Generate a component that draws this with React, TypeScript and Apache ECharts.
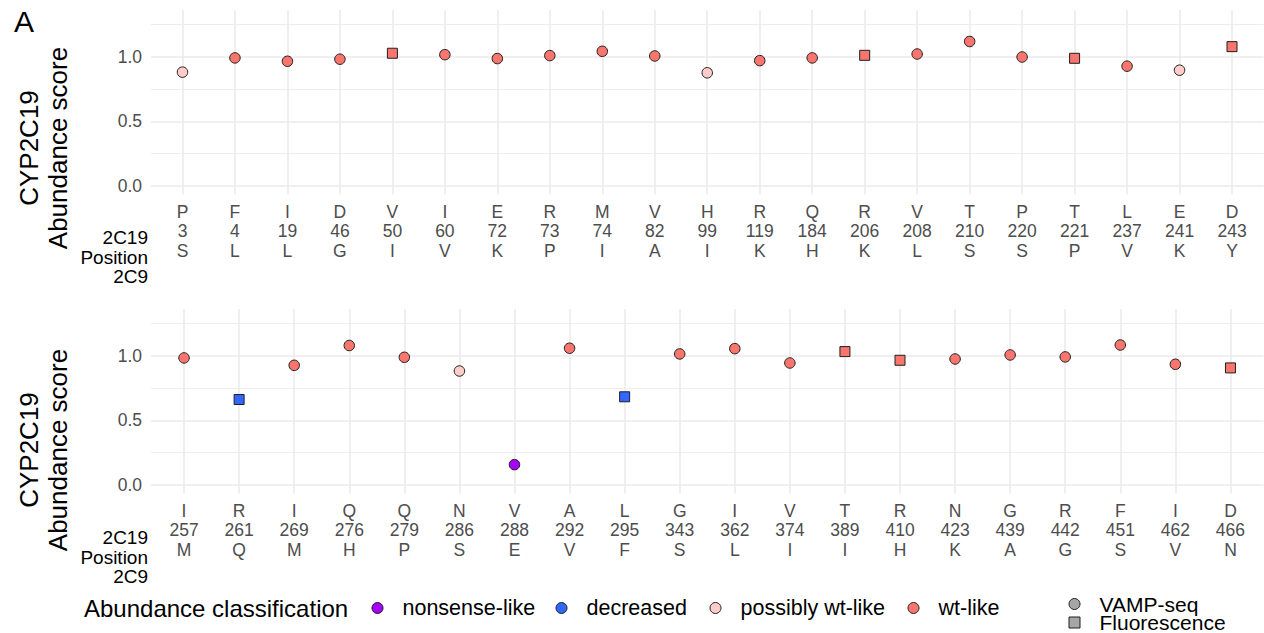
import React, { useEffect, useRef } from "react";
import * as echarts from "echarts";

// Panel 1: CYP2C19 variants (reference residue, position, CYP2C9 residue)
const topRef = ["P", "F", "I", "D", "V", "I", "E", "R", "M", "V", "H", "R", "Q", "R", "V", "T", "P", "T", "L", "E", "D"];
const topPos = [3, 4, 19, 46, 50, 60, 72, 73, 74, 82, 99, 119, 184, 206, 208, 210, 220, 221, 237, 241, 243];
const topAlt = ["S", "L", "L", "G", "I", "V", "K", "P", "I", "A", "I", "K", "H", "K", "L", "S", "S", "P", "V", "K", "Y"];
const topScore = [0.88, 0.99, 0.964, 0.98, 1.026, 1.015, 0.985, 1.008, 1.041, 1.005, 0.875, 0.969, 0.99, 1.01, 1.02, 1.117, 0.997, 0.987, 0.926, 0.895, 1.077];
const topClass = [
  "possibly wt-like", "wt-like", "wt-like", "wt-like", "wt-like", "wt-like", "wt-like", "wt-like", "wt-like", "wt-like",
  "possibly wt-like", "wt-like", "wt-like", "wt-like", "wt-like", "wt-like", "wt-like", "wt-like", "wt-like", "possibly wt-like", "wt-like",
];
const topAssay = [
  "VAMP-seq", "VAMP-seq", "VAMP-seq", "VAMP-seq", "Fluorescence", "VAMP-seq", "VAMP-seq", "VAMP-seq", "VAMP-seq", "VAMP-seq",
  "VAMP-seq", "VAMP-seq", "VAMP-seq", "Fluorescence", "VAMP-seq", "VAMP-seq", "VAMP-seq", "Fluorescence", "VAMP-seq", "VAMP-seq", "Fluorescence",
];

// Panel 2
const botRef = ["I", "R", "I", "Q", "Q", "N", "V", "A", "L", "G", "I", "V", "T", "R", "N", "G", "R", "F", "I", "D"];
const botPos = [257, 261, 269, 276, 279, 286, 288, 292, 295, 343, 362, 374, 389, 410, 423, 439, 442, 451, 462, 466];
const botAlt = ["M", "Q", "M", "H", "P", "S", "E", "V", "F", "S", "L", "I", "I", "H", "K", "A", "G", "S", "V", "N"];
const botScore = [0.982, 0.661, 0.925, 1.078, 0.987, 0.881, 0.158, 1.057, 0.682, 1.013, 1.054, 0.943, 1.031, 0.964, 0.974, 1.005, 0.99, 1.082, 0.933, 0.905];
const botClass = [
  "wt-like", "decreased", "wt-like", "wt-like", "wt-like", "possibly wt-like", "nonsense-like", "wt-like", "decreased", "wt-like",
  "wt-like", "wt-like", "wt-like", "wt-like", "wt-like", "wt-like", "wt-like", "wt-like", "wt-like", "wt-like",
];
const botAssay = [
  "VAMP-seq", "Fluorescence", "VAMP-seq", "VAMP-seq", "VAMP-seq", "VAMP-seq", "VAMP-seq", "VAMP-seq", "Fluorescence", "VAMP-seq",
  "VAMP-seq", "VAMP-seq", "Fluorescence", "Fluorescence", "VAMP-seq", "VAMP-seq", "VAMP-seq", "VAMP-seq", "VAMP-seq", "Fluorescence",
];

const classNames = ["nonsense-like", "decreased", "possibly wt-like", "wt-like"];
const classColors = ["#a600ff", "#3366ff", "#ffcdc9", "#f8766d"];
const assayNames = ["VAMP-seq", "Fluorescence"];

const majorTicks = [0, 0.5, 1];
const minorTicks = [0.25, 0.75, 1.25];

const FONT = "'Liberation Sans', Arial, Helvetica, sans-serif";
const GRID_COLOR = "#ebebeb";
const TICK_COLOR = "#4d4d4d";
const EDGE = "#1f1f1f";
const Y_MIN = -0.065;
const Y_MAX = 1.36;
const SQUARE_ICON = "path://M0,0L10,0L10,10L0,10Z";

// legend layout: icon centres for each entry
const classLegendX = [378, 562, 716, 914];
const assayLegendY = [602.5, 621];
const ICON_OFFSET = 6.5;

function indices(n: number) {
  return Array.from({ length: n }, (_, i) => i);
}

function xAxisFor(gridIndex: number, ref: string[], pos: number[], alt: string[]) {
  const idx = indices(ref.length);
  return {
    type: "value",
    gridIndex,
    min: -0.6,
    max: ref.length - 1 + 0.6,
    axisLine: { show: false },
    axisTick: { show: false, customValues: idx },
    axisLabel: {
      customValues: idx,
      formatter: (v: number) => {
        const i = Math.round(v);
        return `${ref[i]}\n${pos[i]}\n${alt[i]}`;
      },
      color: TICK_COLOR,
      fontSize: 17.5,
      lineHeight: 19.3,
      margin: 8,
      fontFamily: FONT,
    },
    splitLine: { show: true, lineStyle: { color: GRID_COLOR, width: 1.6 } },
  };
}

function yAxesFor(gridIndex: number) {
  return [
    {
      type: "value",
      gridIndex,
      min: Y_MIN,
      max: Y_MAX,
      axisLine: { show: false },
      axisTick: { show: false, customValues: majorTicks },
      axisLabel: {
        customValues: majorTicks,
        formatter: (v: number) => v.toFixed(1),
        color: TICK_COLOR,
        fontSize: 17.5,
        margin: 9,
        fontFamily: FONT,
      },
      splitLine: { show: true, lineStyle: { color: GRID_COLOR, width: 1.6 } },
    },
    {
      type: "value",
      gridIndex,
      position: "left",
      min: Y_MIN,
      max: Y_MAX,
      axisLine: { show: false },
      axisTick: { show: false, customValues: minorTicks },
      axisLabel: { show: false, customValues: minorTicks },
      splitLine: { show: true, lineStyle: { color: GRID_COLOR, width: 0.9 } },
    },
  ];
}

function panelSeries(panel: number, score: number[], cls: string[], assay: string[]) {
  return classNames.map((c, k) => ({
    type: "scatter",
    name: c,
    xAxisIndex: panel,
    yAxisIndex: panel * 2,
    z: 3,
    data: score
      .map((s, i) =>
        cls[i] === c
          ? {
              value: [i, s],
              symbol: assay[i] === "Fluorescence" ? "rect" : "circle",
              symbolSize: assay[i] === "Fluorescence" ? 10 : 10.5,
            }
          : null
      )
      .filter((d) => d !== null),
    itemStyle: { color: classColors[k], borderColor: EDGE, borderWidth: 1, opacity: 1 },
  }));
}

const legendBase = {
  orient: "horizontal",
  padding: 0,
  itemWidth: 40,
  itemHeight: 11,
  selectedMode: false,
  itemStyle: { borderColor: EDGE, borderWidth: 1, opacity: 1 },
  textStyle: { fontSize: 21.5, color: "#000", fontFamily: FONT, lineHeight: 22 },
};

export default function App() {
  const ref = useRef<HTMLDivElement>(null);

  useEffect(() => {
    if (!ref.current) return;
    const chart = echarts.init(ref.current, null, { renderer: "svg" });

    const option = {
      animation: false,
      backgroundColor: "#ffffff",
      textStyle: { fontFamily: FONT },
      grid: [
        { left: 151, right: 0.5, top: 10, height: 184.5 },
        { left: 151, right: 0.5, top: 309, height: 184.5 },
      ],
      xAxis: [xAxisFor(0, topRef, topPos, topAlt), xAxisFor(1, botRef, botPos, botAlt)],
      yAxis: [...yAxesFor(0), ...yAxesFor(1)],
      legend: [
        ...classNames.map((n, k) => ({
          ...legendBase,
          left: classLegendX[k] - ICON_OFFSET,
          top: 608 - 11,
          data: [{ name: n, icon: "circle" }],
        })),
        ...assayNames.map((n, k) => ({
          ...legendBase,
          left: 1075 - ICON_OFFSET,
          top: assayLegendY[k] - 9,
          textStyle: { fontSize: 21, color: "#000", fontFamily: FONT, lineHeight: 18 },
          data: [{ name: n, icon: k === 0 ? "circle" : SQUARE_ICON }],
        })),
      ],
      series: [
        ...panelSeries(0, topScore, topClass, topAssay),
        ...panelSeries(1, botScore, botClass, botAssay),
        ...assayNames.map((n, k) => ({
          type: "scatter",
          name: n,
          xAxisIndex: 0,
          yAxisIndex: 0,
          symbol: k === 0 ? "circle" : "rect",
          data: [],
          itemStyle: { color: "#a6a6a6", borderColor: EDGE, borderWidth: 1, opacity: 1 },
        })),
      ],
      graphic: [
        {
          type: "text",
          left: 14,
          top: 6,
          style: { text: "A", font: `30px ${FONT}`, fill: "#000" },
        },
        ...[148, 450].map((cy) => ({
          type: "text",
          x: 43,
          y: cy,
          rotation: Math.PI / 2,
          style: {
            text: "CYP2C19\nAbundance score",
            font: `26px ${FONT}`,
            fill: "#000",
            align: "center",
            verticalAlign: "middle",
            lineHeight: 29,
          },
        })),
        ...[257.3, 557].map((cy) => ({
          type: "text",
          x: 148,
          y: cy,
          style: {
            text: "2C19\nPosition\n2C9",
            font: `19px ${FONT}`,
            fill: "#000",
            align: "right",
            verticalAlign: "middle",
            lineHeight: 19.5,
          },
        })),
        {
          type: "text",
          x: 84,
          y: 608,
          style: {
            text: "Abundance classification",
            font: `24px ${FONT}`,
            fill: "#000",
            align: "left",
            verticalAlign: "middle",
          },
        },
      ],
    };

    chart.setOption(option as any);
    return () => chart.dispose();
  }, []);

  return (
    <div
      ref={ref}
      style={{ position: "absolute", left: 0, top: 0, width: 1264, height: 633, background: "#fff" }}
    />
  );
}
